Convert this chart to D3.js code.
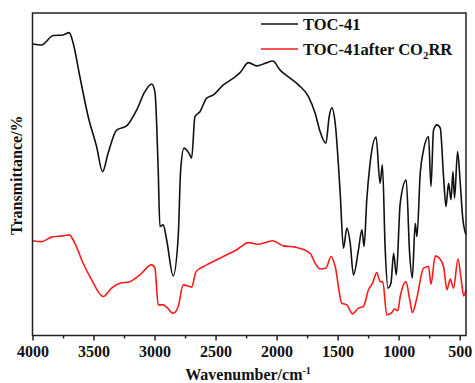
<!DOCTYPE html>
<html>
<head>
<meta charset="utf-8">
<script src="https://cdn.jsdelivr.net/npm/d3@7"></script>
<style>
  body { margin: 0; background: #fff; }
  svg text { font-family: "Liberation Serif", "Times New Roman", serif; font-weight: bold; fill: #111; }
</style>
</head>
<body>
<div id="chart"></div>
<script>
// wavenumber (cm-1) and transmittance (arbitrary %)
const blackWave = [4000, 3926, 3831, 3749, 3700, 3667, 3612, 3544, 3475, 3426, 3380, 3311, 3229, 3147, 3079, 3024, 2997, 2970, 2956, 2929, 2901, 2847, 2806, 2786, 2759, 2715, 2696, 2669, 2628, 2573, 2518, 2436, 2354, 2299, 2231, 2162, 2094, 2031, 1971, 1889, 1821, 1739, 1684, 1643, 1596, 1569, 1547, 1520, 1479, 1452, 1424, 1397, 1370, 1329, 1301, 1283, 1261, 1234, 1185, 1152, 1133, 1110, 1088, 1063, 1041, 1019, 987, 938, 910, 888, 864, 850, 823, 796, 755, 735, 714, 686, 659, 632, 612, 591, 571, 555, 542, 517, 495, 476, 448];
const blackT = [90.4, 90.1, 93.0, 93.2, 93.9, 90.7, 80.3, 67.9, 58.6, 50.8, 56.6, 63.7, 65.0, 69.9, 75.6, 78.0, 75.6, 51.3, 33.8, 34.3, 29.7, 18.5, 30.7, 51.3, 58.1, 56.3, 55.0, 67.9, 69.4, 73.6, 74.6, 77.7, 79.8, 81.5, 84.6, 83.6, 84.4, 85.1, 82.3, 79.8, 77.7, 74.1, 68.9, 63.2, 59.6, 67.9, 70.6, 65.9, 44.2, 27.1, 33.3, 28.7, 18.8, 26.6, 32.8, 27.6, 42.1, 53.4, 61.5, 47.2, 52.9, 26.6, 14.7, 16.2, 25.5, 18.8, 41.0, 48.2, 25.5, 17.8, 34.8, 30.7, 50.3, 57.5, 61.7, 46.2, 63.7, 65.3, 64.3, 49.3, 40.0, 47.2, 42.1, 50.8, 42.6, 57.0, 47.2, 36.9, 31.2];

const redWave = [4000, 3926, 3844, 3749, 3700, 3653, 3585, 3516, 3421, 3352, 3284, 3202, 3120, 3024, 2997, 2970, 2929, 2901, 2847, 2806, 2765, 2715, 2696, 2660, 2573, 2436, 2326, 2231, 2149, 2031, 1944, 1848, 1725, 1684, 1643, 1596, 1553, 1520, 1465, 1424, 1378, 1329, 1288, 1247, 1214, 1179, 1152, 1130, 1097, 1056, 1035, 1007, 987, 941, 906, 887, 851, 796, 755, 735, 700, 667, 632, 604, 577, 550, 514, 487, 467, 448];
const redT = [29.4, 29.1, 30.5, 30.9, 31.2, 28.6, 22.4, 17.3, 12.1, 14.7, 16.2, 16.7, 18.8, 21.9, 20.9, 9.5, 9.5, 8.8, 6.9, 9.0, 15.7, 15.2, 15.0, 19.8, 21.9, 24.5, 26.6, 28.8, 28.3, 29.4, 27.8, 27.4, 25.5, 22.4, 20.6, 20.9, 24.5, 21.4, 10.0, 9.5, 6.7, 8.5, 9.0, 14.2, 16.2, 19.5, 16.7, 16.7, 6.4, 7.1, 8.2, 7.7, 12.1, 16.7, 10.5, 7.1, 11.6, 20.9, 21.4, 15.9, 24.7, 24.0, 21.4, 14.2, 17.5, 14.7, 23.7, 17.3, 12.3, 14.2];

const majorTicks = [4000, 3500, 3000, 2500, 2000, 1500, 1000, 500];
const minorTicks = [3750, 3250, 2750, 2250, 1750, 1250, 750];
const seriesNames = ["TOC-41", "TOC-41after CO"];

const width = 475, height = 383;
const margin = { top: 13, right: 9, bottom: 47.5, left: 32.5 };

const svg = d3.select("#chart").append("svg")
  .attr("width", width)
  .attr("height", height);

const x = d3.scaleLinear()
  .domain([4000, 448])
  .range([margin.left, width - margin.right]);

const y = d3.scaleLinear()
  .domain([0, 100])
  .range([height - margin.bottom, margin.top]);

const line = d3.line()
  .x(d => x(d[0]))
  .y(d => y(d[1]))
  .curve(d3.curveMonotoneX);

const blackData = blackWave.map((w, i) => [w, blackT[i]]);
const redData = redWave.map((w, i) => [w, redT[i]]);

svg.append("path")
  .datum(redData)
  .attr("d", line)
  .attr("fill", "none")
  .attr("stroke", "#ff1a1a")
  .attr("stroke-width", 1.6);

svg.append("path")
  .datum(blackData)
  .attr("d", line)
  .attr("fill", "none")
  .attr("stroke", "#111")
  .attr("stroke-width", 1.6);

// bottom axis with major + minor ticks
const axisY = height - margin.bottom;
const xAxis = svg.append("g")
  .attr("transform", `translate(0,${axisY})`)
  .call(d3.axisBottom(x).tickValues(majorTicks).tickSize(5).tickPadding(5).tickFormat(d3.format("d")));
xAxis.select(".domain").remove();
xAxis.selectAll("line").attr("stroke", "#222").attr("stroke-width", 1.5);
xAxis.selectAll("text")
  .attr("font-size", 16)
  .attr("font-family", "Liberation Serif, serif")
  .attr("font-weight", "bold")
  .attr("fill", "#111");

svg.append("g")
  .attr("transform", `translate(0,${axisY})`)
  .call(d3.axisBottom(x).tickValues(minorTicks).tickSize(3).tickFormat(""))
  .call(g => g.select(".domain").remove())
  .selectAll("line").attr("stroke", "#222").attr("stroke-width", 1.5);

// frame
svg.append("rect")
  .attr("x", margin.left)
  .attr("y", margin.top)
  .attr("width", width - margin.left - margin.right)
  .attr("height", height - margin.top - margin.bottom)
  .attr("fill", "none")
  .attr("stroke", "#222")
  .attr("stroke-width", 1.5);

// axis titles
const xt = svg.append("text")
  .attr("x", 248)
  .attr("y", 380)
  .attr("text-anchor", "middle")
  .attr("font-size", 16)
  .text("Wavenumber/cm");
xt.append("tspan").attr("dy", -6).attr("font-size", 10).text("-1");

svg.append("text")
  .attr("transform", `translate(22,${(margin.top + axisY) / 2 + 1}) rotate(-90)`)
  .attr("text-anchor", "middle")
  .attr("font-size", 16)
  .text("Transmittance/%");

// legend
const legend = svg.append("g");
const legendColors = ["#111", "#ff1a1a"];
seriesNames.forEach((name, i) => {
  const ly = 24 + i * 25;
  legend.append("line")
    .attr("x1", 261).attr("x2", 298)
    .attr("y1", ly).attr("y2", ly)
    .attr("stroke", legendColors[i])
    .attr("stroke-width", 1.5);
  const t = legend.append("text")
    .attr("x", 303)
    .attr("y", ly + 6)
    .attr("font-size", 16.5)
    .text(name);
  if (i === 1) {
    t.append("tspan").attr("dy", 4).attr("font-size", 11).text("2");
    t.append("tspan").attr("dy", -4).attr("font-size", 16.5).text("RR");
  }
});
</script>
</body>
</html>
